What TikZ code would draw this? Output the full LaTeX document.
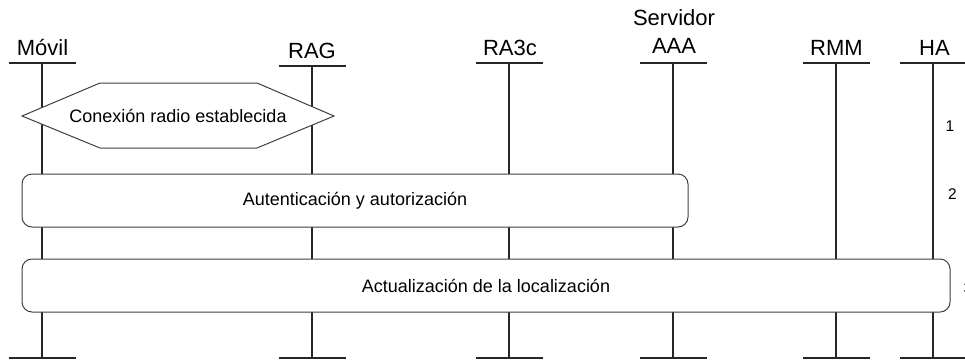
\documentclass[tikz,border=0pt]{standalone}
\usepackage{fontspec}
\setmainfont{Liberation Sans}
\begin{document}
\begin{tikzpicture}[x=1pt,y=-1pt,
  lbl/.style={font=\fontsize{22}{24}\selectfont, anchor=base, inner sep=0pt},
  life/.style={line width=1.3pt, black!85},
  proc/.style={draw=black!75, line width=1pt, fill=white, rounded corners=10pt, inner sep=0pt, font=\fontsize{18}{20}\selectfont},
  hexa/.style={draw=black!75, line width=1pt, fill=white},
  num/.style={font=\fontsize{15.5}{17}\selectfont, inner sep=0pt}]
\useasboundingbox (0,0) rectangle (965,360);

% entity labels
\node[lbl] (movil) at (42.5,55) {Móvil};
\node[lbl] (rag) at (312,58) {RAG};
\node[lbl] (ra3c) at (510,55) {RA3c};
\node[lbl] (serv) at (674,25) {Servidor};
\node[lbl] (aaa) at (674,53) {AAA};
\node[lbl] (rmm) at (836.5,55) {RMM};
\node[lbl] (ha) at (934.5,55) {HA};

% lifelines with top and bottom bars
\foreach \n/\x/\yt in {m/42/63, r/312/66, c/509/63, a/673/63, mm/836/63, h/933/63}{
  \coordinate (\n T) at (\x,\yt);
  \coordinate (\n B) at (\x,358);
  \draw[life] (\n T) -- (\n B);
  \draw[life] ([xshift=-33pt]\n T) -- ([xshift=34pt]\n T);
  \draw[life] ([xshift=-33pt]\n B) -- ([xshift=34pt]\n B);
}

% radio connection hexagon
\draw[hexa] (22,116) -- (100,83) -- (257,83) -- (334,116) -- (257,148) -- (100,148) -- cycle;
\node[font=\fontsize{18}{20}\selectfont, inner sep=0pt] (conex) at (178,116) {Conexión radio establecida};

% procedure boxes
\node[proc, minimum width=666pt, minimum height=53pt] (auth) at (355,200.5) {Autenticación y autorización};
\node[proc, minimum width=928pt, minimum height=53pt] (upd) at (486,285.5) {Actualización de la localización};

% step numbers
\node[num] (n1) at (950,126.5) {1};
\node[num] (n2) at (952.5,194.5) {2};
\node[num, anchor=west] (n3) at (963.5,288) {3};
\end{tikzpicture}
\end{document}
